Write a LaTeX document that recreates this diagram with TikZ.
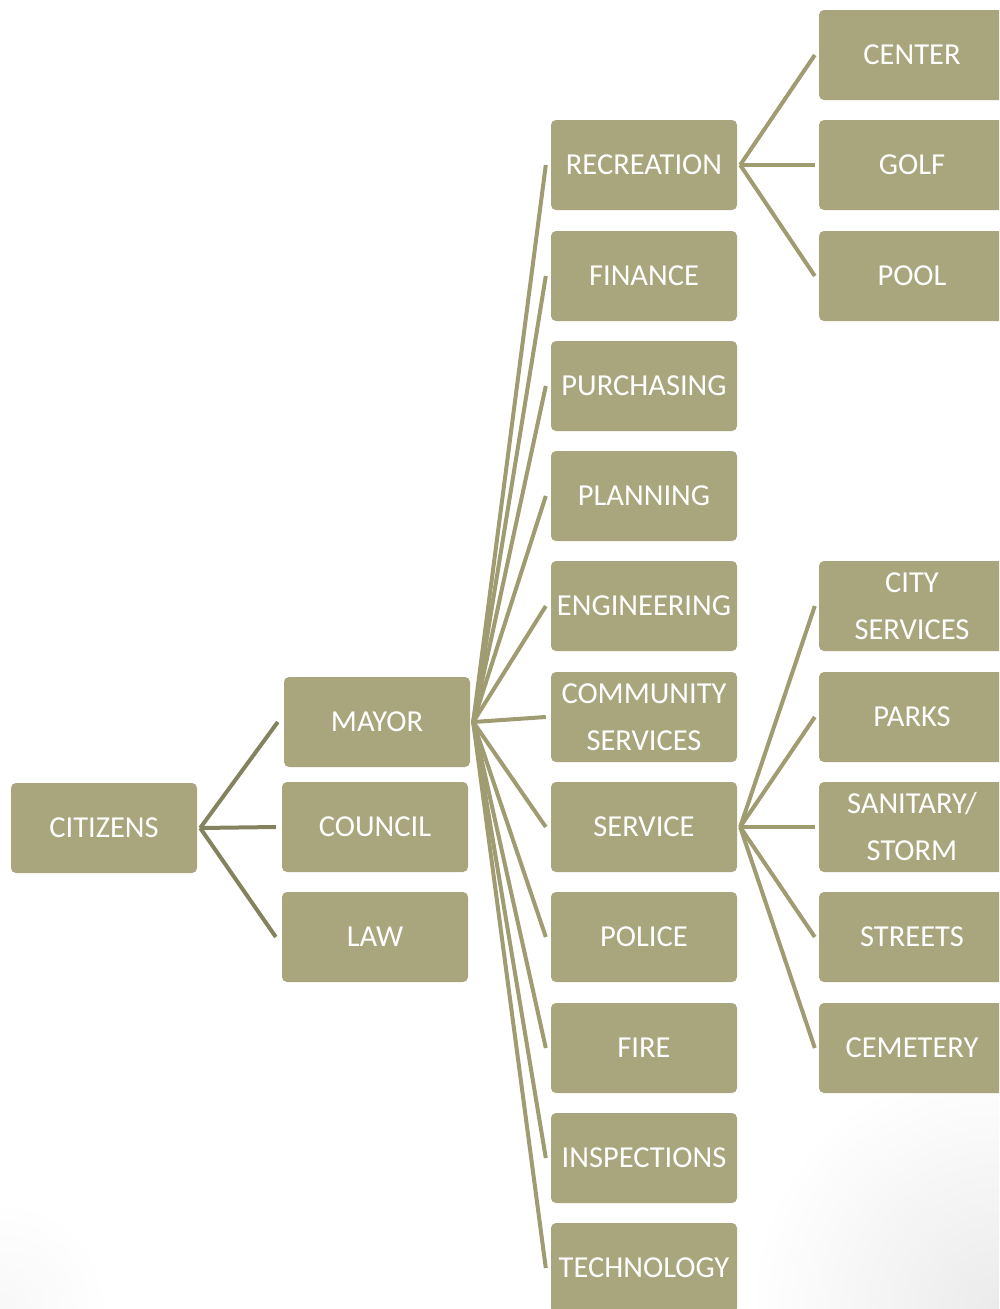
\documentclass[tikz,border=0pt]{standalone}
\usepackage{fontspec}
\setmainfont{Carlito}
\definecolor{boxc}{RGB}{169,165,124}
\definecolor{linec}{RGB}{160,156,114}
\definecolor{darkl}{RGB}{133,131,95}
\begin{document}
\begin{tikzpicture}[x=1pt,y=-1pt,
  box/.style={rectangle, rounded corners=5pt, fill=boxc, text=white,
    minimum width=186pt, minimum height=90pt, inner sep=0pt, align=center,
    font=\fontsize{30.5}{47}\selectfont},
  conn/.style={draw=linec, line width=4pt},
  dconn/.style={draw=darkl, line width=4pt}]
\clip (0,0) rectangle (999,1309);
\fill[white] (0,0) rectangle (999,1309);
\shade[inner color=black!8, outer color=white] (999,1309) circle (250);
\shade[inner color=black!3, outer color=white] (0,1309) circle (110);

% level 0 and 1
\node[box] (citizens) at (104,828) {CITIZENS};
\node[box] (mayor) at (377,722) {MAYOR};
\node[box] (council) at (375,827) {COUNCIL};
\node[box] (law) at (375,937) {LAW};

% level 2
\node[box] (recreation) at (644,165) {RECREATION};
\node[box] (finance) at (644,276) {FINANCE};
\node[box] (purchasing) at (644,386) {PURCHASING};
\node[box] (planning) at (644,496) {PLANNING};
\node[box] (engineering) at (644,606) {ENGINEERING};
\node[box] (community) at (644,717) {COMMUNITY\\SERVICES};
\node[box] (service) at (644,827) {SERVICE};
\node[box] (police) at (644,937) {POLICE};
\node[box] (fire) at (644,1048) {FIRE};
\node[box] (inspections) at (644,1158) {INSPECTIONS};
\node[box] (technology) at (644,1268) {TECHNOLOGY};

% level 3
\node[box] (center) at (912,55) {CENTER};
\node[box] (golf) at (912,165) {GOLF};
\node[box] (pool) at (912,276) {POOL};
\node[box] (cityserv) at (912,606) {CITY\\SERVICES};
\node[box] (parks) at (912,717) {PARKS};
\node[box] (sanitary) at (912,827) {SANITARY/\\STORM};
\node[box] (streets) at (912,937) {STREETS};
\node[box] (cemetery) at (912,1048) {CEMETERY};

% citizens connectors
\foreach \t in {mayor,council,law}
  \draw[dconn] ([xshift=3pt]citizens.east) -- ([xshift=-6pt]\t.west);

% mayor connectors
\foreach \t in {recreation,finance,purchasing,planning,engineering,community,service,police,fire,inspections,technology}
  \draw[conn] ([xshift=3pt]mayor.east) -- ([xshift=-5pt]\t.west);

% recreation connectors
\foreach \t in {center,golf,pool}
  \draw[conn] ([xshift=3pt]recreation.east) -- ([xshift=-4pt]\t.west);

% service connectors
\foreach \t in {cityserv,parks,sanitary,streets,cemetery}
  \draw[conn] ([xshift=3pt]service.east) -- ([xshift=-4pt]\t.west);
\end{tikzpicture}
\end{document}
